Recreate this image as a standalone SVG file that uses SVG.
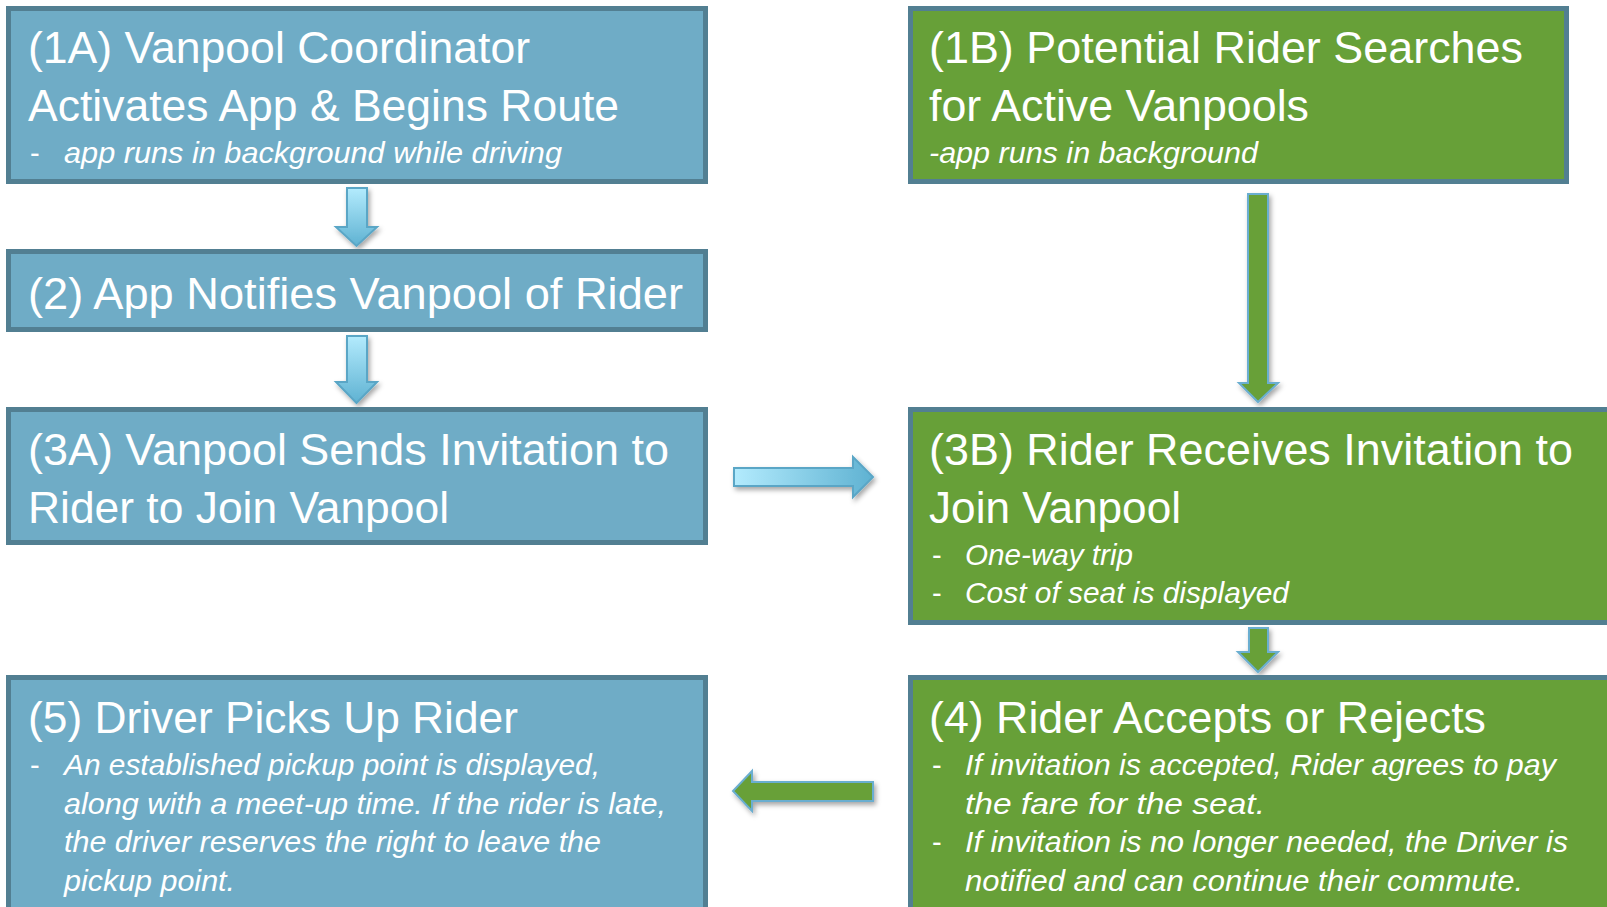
<svg xmlns="http://www.w3.org/2000/svg" width="1607" height="907" viewBox="0 0 1607 907">
<defs>
<linearGradient id="gv" x1="0" y1="0" x2="0" y2="1"><stop offset="0" stop-color="#b3ebfd"/><stop offset="1" stop-color="#5fb2d2"/></linearGradient>
<linearGradient id="gh" x1="0" y1="0" x2="1" y2="0"><stop offset="0" stop-color="#b3ebfd"/><stop offset="1" stop-color="#5fb2d2"/></linearGradient>
<filter id="sh" x="-30%" y="-30%" width="160%" height="160%"><feDropShadow dx="2" dy="3" stdDeviation="2.5" flood-color="#000" flood-opacity="0.35"/></filter>
<style>
.box{stroke:#527f92;stroke-width:5}
.blue{fill:#6facc6}
.green{fill:#67a038}
.t{font-family:"Liberation Sans",Arial,sans-serif;font-size:44px;fill:#fff}
.s{font-family:"Liberation Sans",Arial,sans-serif;font-size:29px;font-style:italic;fill:#fff}
.d{font-family:"Liberation Sans",Arial,sans-serif;font-size:29px;fill:#fff}
.ab{stroke:#5aa6c6;stroke-width:2;filter:url(#sh)}
.ag{fill:#67a038;stroke:#6aaed0;stroke-width:2;filter:url(#sh)}
</style>
</defs>
<rect width="1607" height="907" fill="#fff"/>
<g id="connectors">
<polygon class="ab" fill="url(#gv)" points="347,188 367,188 367,227 377,227 356.5,246 336,227 347,227"/>
<polygon class="ab" fill="url(#gv)" points="347,336 367,336 367,382 377,382 356.5,403 336,382 347,382"/>
<polygon class="ab" fill="url(#gh)" points="734,468 853,468 853,457 873,477 853,497 853,486 734,486"/>
<polygon class="ag" points="1248,194 1268,194 1268,383 1278,383 1258,402 1239,383 1248,383"/>
<polygon class="ag" points="1249,628 1268,628 1268,652 1278,652 1258,672 1238,652 1249,652"/>
<polygon class="ag" points="873,782 873,801 752,801 752,811 733,791 752,771 752,782"/>
</g>
<g id="n1A">
<rect class="box blue" x="8.5" y="8.5" width="697" height="173"/>
<text class="t" x="28" y="63" textLength="502" lengthAdjust="spacingAndGlyphs">(1A) Vanpool Coordinator</text>
<text class="t" x="28" y="121" textLength="591" lengthAdjust="spacingAndGlyphs">Activates App &amp; Begins Route</text>
<text class="d" x="30" y="163">-</text>
<text class="s" x="64" y="163" textLength="498" lengthAdjust="spacingAndGlyphs">app runs in background while driving</text>
</g>
<g id="n2">
<rect class="box blue" x="8.5" y="251.5" width="697" height="78"/>
<text class="t" x="28" y="309" textLength="655" lengthAdjust="spacingAndGlyphs">(2) App Notifies Vanpool of Rider</text>
</g>
<g id="n3A">
<rect class="box blue" x="8.5" y="409.5" width="697" height="133"/>
<text class="t" x="28" y="465" textLength="641" lengthAdjust="spacingAndGlyphs">(3A) Vanpool Sends Invitation to</text>
<text class="t" x="28" y="523" textLength="421" lengthAdjust="spacingAndGlyphs">Rider to Join Vanpool</text>
</g>
<g id="n5">
<rect class="box blue" x="8.5" y="677.5" width="697" height="250"/>
<text class="t" x="28" y="733" textLength="490" lengthAdjust="spacingAndGlyphs">(5) Driver Picks Up Rider</text>
<text class="d" x="30" y="775">-</text>
<text class="s" x="64" y="775" textLength="536" lengthAdjust="spacingAndGlyphs">An established pickup point is displayed,</text>
<text class="s" x="64" y="814" textLength="602" lengthAdjust="spacingAndGlyphs">along with a meet-up time. If the rider is late,</text>
<text class="s" x="64" y="852" textLength="537" lengthAdjust="spacingAndGlyphs">the driver reserves the right to leave the</text>
<text class="s" x="64" y="891" textLength="171" lengthAdjust="spacingAndGlyphs">pickup point.</text>
</g>
<g id="n1B">
<rect class="box green" x="910.5" y="8.5" width="656" height="173"/>
<text class="t" x="929" y="63" textLength="594" lengthAdjust="spacingAndGlyphs">(1B) Potential Rider Searches</text>
<text class="t" x="929" y="121" textLength="380" lengthAdjust="spacingAndGlyphs">for Active Vanpools</text>
<text class="s" x="929" y="163" textLength="329" lengthAdjust="spacingAndGlyphs">-app runs in background</text>
</g>
<g id="n3B">
<rect class="box green" x="910.5" y="409.5" width="720" height="213"/>
<text class="t" x="929" y="465" textLength="644" lengthAdjust="spacingAndGlyphs">(3B) Rider Receives Invitation to</text>
<text class="t" x="929" y="523" textLength="252" lengthAdjust="spacingAndGlyphs">Join Vanpool</text>
<text class="d" x="932" y="565">-</text>
<text class="s" x="965" y="565" textLength="168" lengthAdjust="spacingAndGlyphs">One-way trip</text>
<text class="d" x="932" y="603">-</text>
<text class="s" x="965" y="603" textLength="324" lengthAdjust="spacingAndGlyphs">Cost of seat is displayed</text>
</g>
<g id="n4">
<rect class="box green" x="910.5" y="677.5" width="720" height="250"/>
<text class="t" x="929" y="733" textLength="557" lengthAdjust="spacingAndGlyphs">(4) Rider Accepts or Rejects</text>
<text class="d" x="932" y="775">-</text>
<text class="s" x="965" y="775" textLength="591" lengthAdjust="spacingAndGlyphs">If invitation is accepted, Rider agrees to pay</text>
<text class="s" x="965" y="814" textLength="300" lengthAdjust="spacingAndGlyphs">the fare for the seat.</text>
<text class="d" x="932" y="852">-</text>
<text class="s" x="965" y="852" textLength="603" lengthAdjust="spacingAndGlyphs">If invitation is no longer needed, the Driver is</text>
<text class="s" x="965" y="891" textLength="558" lengthAdjust="spacingAndGlyphs">notified and can continue their commute.</text>
</g>
</svg>
